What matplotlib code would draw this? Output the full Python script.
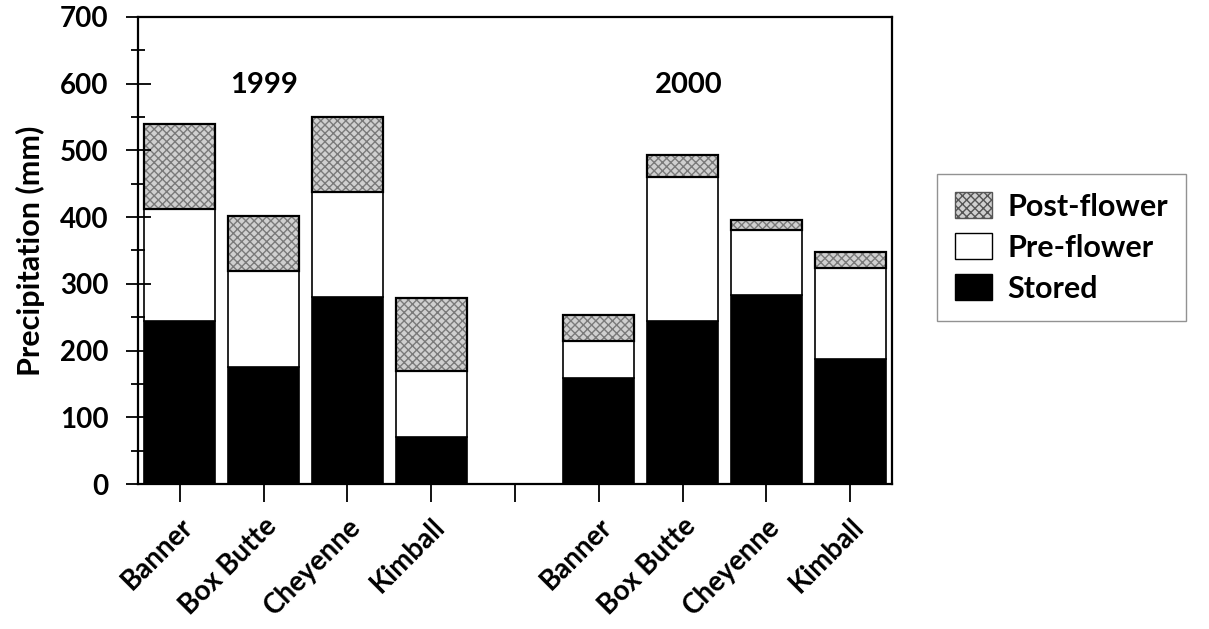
import numpy as np
import matplotlib.pyplot as plt
from matplotlib.patches import Patch
from matplotlib.ticker import MultipleLocator

plt.rcParams['font.family'] = ['Lato', 'DejaVu Sans']
plt.rcParams['font.weight'] = 'bold'
plt.rcParams['axes.labelweight'] = 'bold'
plt.rcParams['hatch.linewidth'] = 1.0

sites = ['Banner', 'Box Butte', 'Cheyenne', 'Kimball']
years = ['1999', '2000']
# precipitation components (mm), 1999 sites then 2000 sites
stored = [244, 175, 280, 70, 159, 245, 284, 188]
pre_flower = [168, 144, 158, 100, 56, 215, 96, 136]
post_flower = [128, 83, 112, 109, 39, 33, 15, 24]

xpos = np.array([0, 1, 2, 3, 5, 6, 7, 8])
w = 0.85
stored = np.array(stored)
pre_flower = np.array(pre_flower)
post_flower = np.array(post_flower)

fig = plt.figure(figsize=(12.09, 6.29), dpi=100)
ax = fig.add_axes([0.1141, 0.2305, 0.6237, 0.7425])

ax.bar(xpos, stored, w, color='black', edgecolor='black', lw=1.2)
ax.bar(xpos, pre_flower, w, bottom=stored, color='white', edgecolor='black', lw=1.2)
# hatched fill drawn first, outline on top so the hatch stays grey
ax.bar(xpos, post_flower, w, bottom=stored + pre_flower, color='#d0d0d0',
       edgecolor='#7a7a7a', hatch='xxxx', lw=0)
ax.bar(xpos, post_flower, w, bottom=stored + pre_flower, fill=False,
       edgecolor='black', lw=1.6)

ax.set_xlim(-0.5, 8.5)
ax.set_ylim(0, 700)
ax.yaxis.set_major_locator(MultipleLocator(100))
ax.yaxis.set_minor_locator(MultipleLocator(50))
ax.set_xticks(np.arange(9))
ax.set_xticklabels(sites + [''] + sites, rotation=45, ha='right',
                   rotation_mode='anchor', fontsize=20)
ax.tick_params(axis='x', direction='out', length=13, width=1.3, pad=8)
ax.tick_params(axis='y', which='major', direction='inout', length=18, width=1.3,
               labelsize=20, pad=12)
ax.tick_params(axis='y', which='minor', direction='inout', length=10, width=1.3)
for s in ax.spines.values():
    s.set_linewidth(1.6)

ax.set_ylabel('Precipitation (mm)', fontsize=22)
ax.yaxis.set_label_coords(-0.123, 0.5)

ax.text(1.0, 598, years[0], ha='center', va='center', fontsize=21)
ax.text(6.07, 598, years[1], ha='center', va='center', fontsize=21)

handles = [
    Patch(facecolor='#d0d0d0', edgecolor='#555555', hatch='xxxx', lw=1),
    Patch(facecolor='white', edgecolor='black', lw=1),
    Patch(facecolor='black', edgecolor='black', lw=1),
]
leg = fig.legend(handles, ['Post-flower', 'Pre-flower', 'Stored'],
                 loc='upper left', bbox_to_anchor=(937 / 1209, 1 - 174 / 629),
                 bbox_transform=fig.transFigure, fontsize=22, frameon=True,
                 fancybox=False, borderaxespad=0, handlelength=1.2,
                 handleheight=0.9, labelspacing=0.42, handletextpad=0.5,
                 borderpad=0.6)
leg.get_frame().set_edgecolor('#777777')
leg.get_frame().set_linewidth(1.0)

plt.savefig('out.png', dpi=100)
